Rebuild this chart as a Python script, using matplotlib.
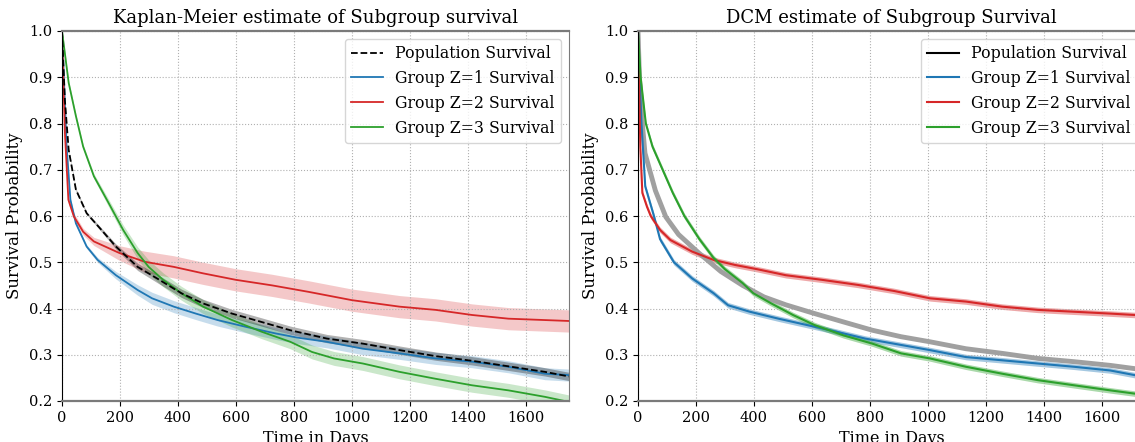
import numpy as np
import matplotlib.pyplot as plt
from matplotlib.lines import Line2D

plt.rcParams['font.family'] = 'DejaVu Serif'

# ---- Kaplan-Meier (left panel) ----
km_pop_t = [0, 10, 23, 48, 85, 136, 186, 261, 336, 412, 487, 587, 688, 788, 914, 1039, 1165, 1290, 1415, 1541, 1667, 1750]
km_pop_s = [1.0, 0.85, 0.743, 0.657, 0.606, 0.57, 0.534, 0.49, 0.462, 0.433, 0.411, 0.389, 0.371, 0.353, 0.335, 0.324, 0.31, 0.297, 0.287, 0.275, 0.263, 0.253]

km_z1_t = [0, 16, 29, 48, 85, 123, 186, 261, 311, 386, 462, 537, 637, 738, 813, 914, 1039, 1165, 1290, 1415, 1541, 1667, 1750]
km_z1_s = [1.0, 0.75, 0.635, 0.584, 0.534, 0.505, 0.472, 0.44, 0.422, 0.404, 0.389, 0.375, 0.36, 0.346, 0.337, 0.328, 0.313, 0.303, 0.292, 0.285, 0.274, 0.259, 0.256]

km_z2_t = [0, 10, 22, 41, 73, 110, 198, 286, 386, 487, 600, 725, 851, 1001, 1165, 1290, 1415, 1541, 1667, 1750]
km_z2_s = [1.0, 0.78, 0.635, 0.599, 0.566, 0.545, 0.52, 0.501, 0.49, 0.476, 0.462, 0.45, 0.436, 0.418, 0.404, 0.397, 0.386, 0.378, 0.375, 0.373]

km_z3_t = [0, 23, 48, 73, 110, 161, 211, 261, 299, 349, 412, 487, 587, 688, 788, 863, 939, 1039, 1165, 1290, 1415, 1541, 1667, 1750]
km_z3_s = [1.0, 0.888, 0.816, 0.75, 0.686, 0.628, 0.57, 0.52, 0.49, 0.462, 0.433, 0.404, 0.375, 0.35, 0.328, 0.306, 0.292, 0.281, 0.263, 0.248, 0.234, 0.223, 0.209, 0.198]

# half-widths of the confidence bands
km_pop_ci = 0.009
km_z1_ci = 0.013
km_z2_ci = 0.024
km_z3_ci = 0.015

# ---- DCM (right panel) ----
dcm_pop_t = [0, 5, 15, 24, 40, 60, 96, 140, 210, 286, 361, 435, 510, 610, 709, 809, 908, 1008, 1132, 1257, 1381, 1505, 1630, 1714, 1750]
dcm_pop_s = [1.0, 0.9, 0.8, 0.736, 0.7, 0.655, 0.598, 0.56, 0.52, 0.48, 0.45, 0.425, 0.408, 0.389, 0.371, 0.353, 0.339, 0.328, 0.313, 0.303, 0.292, 0.285, 0.277, 0.27, 0.268]

dcm_z1_t = [0, 12, 25, 55, 76, 124, 187, 261, 311, 386, 485, 585, 684, 784, 883, 1008, 1132, 1257, 1381, 1505, 1630, 1714, 1750]
dcm_z1_s = [1.0, 0.8, 0.664, 0.6, 0.55, 0.5, 0.465, 0.433, 0.407, 0.393, 0.378, 0.364, 0.35, 0.335, 0.324, 0.31, 0.295, 0.288, 0.281, 0.274, 0.266, 0.256, 0.254]

dcm_z2_t = [0, 8, 15, 31, 44, 76, 112, 187, 261, 336, 411, 510, 635, 759, 883, 1008, 1132, 1257, 1381, 1505, 1630, 1714, 1750]
dcm_z2_s = [1.0, 0.75, 0.65, 0.62, 0.6, 0.57, 0.548, 0.523, 0.505, 0.494, 0.485, 0.472, 0.462, 0.451, 0.438, 0.422, 0.415, 0.404, 0.397, 0.393, 0.389, 0.386, 0.384]

dcm_z3_t = [0, 9, 27, 50, 85, 120, 160, 212, 260, 300, 361, 398, 460, 535, 610, 709, 809, 908, 1008, 1132, 1257, 1381, 1505, 1630, 1714, 1750]
dcm_z3_s = [1.0, 0.9, 0.8, 0.75, 0.7, 0.65, 0.6, 0.55, 0.51, 0.485, 0.455, 0.433, 0.411, 0.386, 0.364, 0.342, 0.324, 0.303, 0.292, 0.274, 0.259, 0.245, 0.234, 0.223, 0.216, 0.214]

dcm_ci = 0.006

labels = ["Population Survival", "Group Z=1 Survival", "Group Z=2 Survival", "Group Z=3 Survival"]
c1, c2, c3 = '#1f77b4', '#d62728', '#2ca02c'

W, H = 1135, 442
fig = plt.figure(figsize=(W / 100, H / 100), dpi=100)
ax1 = fig.add_axes([62 / W, (H - 401) / H, 507 / W, 370 / H])
ax2 = fig.add_axes([638 / W, (H - 401) / H, 507 / W, 370 / H])


def band(ax, t, s, hw, color, alpha):
    t = np.asarray(t)
    s = np.asarray(s)
    w = hw * np.clip(t / 300, 0.3, 1.0)
    ax.fill_between(t, s - w, s + w, color=color, alpha=alpha, lw=0)


# left
band(ax1, km_z1_t, km_z1_s, km_z1_ci, c1, 0.25)
band(ax1, km_z2_t, km_z2_s, km_z2_ci, c2, 0.25)
band(ax1, km_z3_t, km_z3_s, km_z3_ci, c3, 0.25)
band(ax1, km_pop_t, km_pop_s, km_pop_ci, 'k', 0.3)
ax1.plot(km_z1_t, km_z1_s, color=c1, lw=1.3)
ax1.plot(km_z2_t, km_z2_s, color=c2, lw=1.3)
ax1.plot(km_z3_t, km_z3_s, color=c3, lw=1.3)
ax1.plot(km_pop_t, km_pop_s, color='k', lw=1.3, ls='--')
h1 = [Line2D([], [], color='k', ls='--', lw=1.3),
      Line2D([], [], color=c1, lw=1.3),
      Line2D([], [], color=c2, lw=1.3),
      Line2D([], [], color=c3, lw=1.3)]
ax1.set_title('Kaplan-Meier estimate of Subgroup survival', fontsize=13)

# right
ax2.plot(dcm_pop_t, dcm_pop_s, color='#a0a0a0', lw=3.5)
for t, s, c in [(dcm_z1_t, dcm_z1_s, c1), (dcm_z2_t, dcm_z2_s, c2), (dcm_z3_t, dcm_z3_s, c3)]:
    t = np.asarray(t)
    s = np.asarray(s)
    ax2.fill_between(t, s - dcm_ci, s + dcm_ci, color=c, alpha=0.4, lw=0)
    ax2.plot(t, s, color=c, lw=1.5)
h2 = [Line2D([], [], color='k', lw=1.5),
      Line2D([], [], color=c1, lw=1.5),
      Line2D([], [], color=c2, lw=1.5),
      Line2D([], [], color=c3, lw=1.5)]
ax2.set_title('DCM estimate of Subgroup Survival', fontsize=13)

for ax, h in [(ax1, h1), (ax2, h2)]:
    ax.set_xlim(0, 1750)
    ax.set_ylim(0.2, 1.0)
    ax.set_xticks(np.arange(0, 1601, 200))
    ax.set_yticks(np.arange(0.2, 1.01, 0.1))
    ax.grid(True, ls=':', color='#b0b0b0', lw=0.8)
    ax.tick_params(labelsize=10.5, length=3.5)
    ax.set_xlabel('Time in Days', fontsize=11.5)
    ax.set_ylabel('Survival Probability', fontsize=12)
    ax.spines['left'].set_color('k')
    for sp in ['top', 'bottom']:
        ax.spines[sp].set_color('#7a7a7a')
        ax.spines[sp].set_linewidth(1.6)
    ax.spines['right'].set_color('#7a7a7a')
    ax.legend(h, labels, loc='upper right', fontsize=11.3)

fig.savefig('out.png', dpi=100)
